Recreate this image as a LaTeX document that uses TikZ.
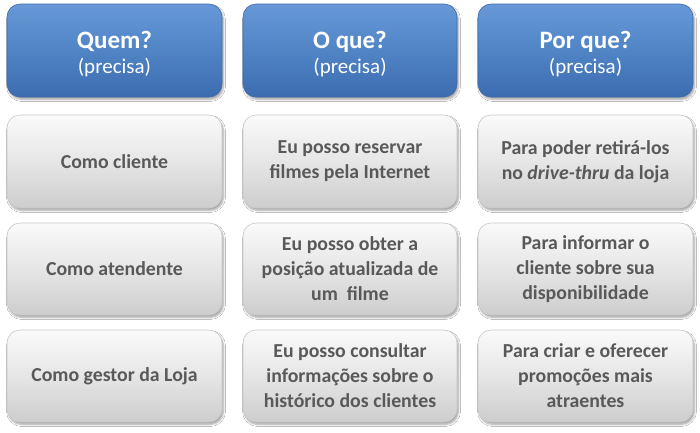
\documentclass[tikz,border=0pt]{standalone}
\usepackage{fontspec}
\setmainfont{Carlito}
\usetikzlibrary{shadows.blur}
\definecolor{hdrtop}{HTML}{6799D8}
\definecolor{hdrmid}{HTML}{5084C5}
\definecolor{hdrbot}{HTML}{3C6CB0}
\definecolor{hdredge}{HTML}{3C69A8}
\definecolor{celltop}{HTML}{FAFAFA}
\definecolor{cellmid}{HTML}{E6E6E6}
\definecolor{cellbot}{HTML}{CDCDCD}
\definecolor{celledge}{HTML}{C8C8C8}
\definecolor{celltext}{HTML}{595959}
\tikzset{
  hdrbox/.style={rounded corners=13pt, draw=hdredge, line width=0.6pt,
    top color=hdrtop, bottom color=hdrbot, middle color=hdrmid,
    blur shadow={shadow xshift=1.5pt, shadow yshift=-2.5pt, shadow blur steps=6, shadow opacity=35}},
  cellbox/.style={rounded corners=13pt, draw=celledge, line width=0.6pt,
    top color=celltop, bottom color=cellbot, middle color=cellmid,
    blur shadow={shadow xshift=1.5pt, shadow yshift=-2.5pt, shadow blur steps=6, shadow opacity=35}},
  hdrtext/.style={text=white, align=center, font=\fontsize{21}{25}\selectfont},
  celltxt/.style={text=celltext, align=center, font=\bfseries\fontsize{19.8}{25}\selectfont},
}
\begin{document}
\begin{tikzpicture}[x=1pt,y=-1pt]
\useasboundingbox[fill=white] (0,0) rectangle (700,432);
% column x-ranges: 7-222, 243-457, 478-693
% row y-ranges: 4-97, 115-208, 223-315, 330-422
\foreach \cx/\cr in {7/222, 243/457, 478/693}{
  \path[hdrbox] (\cx,4) rectangle (\cr,97);
  \foreach \ry/\rb in {115/208, 223/315, 330/422}{
    \path[cellbox] (\cx,\ry) rectangle (\cr,\rb);
  }
}
% headers
\node[hdrtext] (h1) at (114.5,54.5) {{\bfseries\fontsize{25}{27}\selectfont Quem?}\\(precisa)};
\node[hdrtext] (h2) at (350,54.5) {{\bfseries\fontsize{25}{27}\selectfont O que?}\\(precisa)};
\node[hdrtext] (h3) at (585.5,54.5) {{\bfseries\fontsize{25}{27}\selectfont Por que?}\\(precisa)};
% row 1
\node[celltxt] (a1) at (114.5,161.5) {Como cliente};
\node[celltxt] (b1) at (350,161.5) {Eu posso reservar\\filmes pela Internet};
\node[celltxt] (c1) at (585.5,161.5) {Para poder retirá-los\\no \textit{drive-thru} da loja};
% row 2
\node[celltxt] (a2) at (114.5,269) {Como atendente};
\node[celltxt] (b2) at (350,269) {Eu posso obter a\\posição atualizada de\\um\ \ filme};
\node[celltxt] (c2) at (585.5,269) {Para informar o\\cliente sobre sua\\disponibilidade};
% row 3
\node[celltxt] (a3) at (114.5,376) {Como gestor da Loja};
\node[celltxt] (b3) at (350,376) {Eu posso consultar\\informações sobre o\\histórico dos clientes};
\node[celltxt] (c3) at (585.5,376) {Para criar e oferecer\\promoções mais\\atraentes};
\end{tikzpicture}
\end{document}
